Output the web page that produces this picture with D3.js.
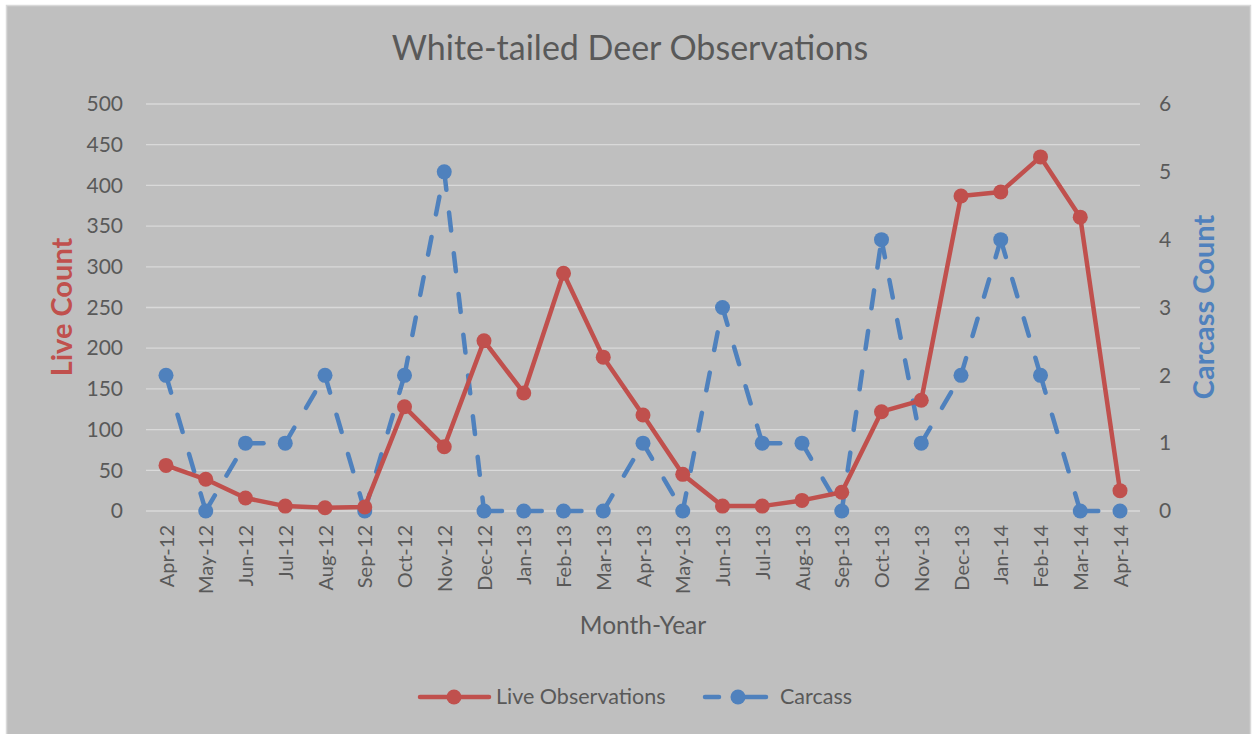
<!DOCTYPE html>
<html><head><meta charset="utf-8">
<script src="https://cdn.jsdelivr.net/npm/d3@7"></script>
<style>body{margin:0;background:#fff;}svg{display:block;font-family:Lato,"Open Sans",sans-serif;}</style>
</head><body><svg id="c" width="1252" height="734"></svg>
<script>
const months = ["Apr-12","May-12","Jun-12","Jul-12","Aug-12","Sep-12","Oct-12","Nov-12","Dec-12","Jan-13","Feb-13","Mar-13","Apr-13","May-13","Jun-13","Jul-13","Aug-13","Sep-13","Oct-13","Nov-13","Dec-13","Jan-14","Feb-14","Mar-14","Apr-14"];
const liveObservations = [56,39,16,6,4,5,128,79,209,145,292,189,118,45,6,6,13,23,122,136,387,392,435,361,25];
const carcass = [2,0,1,1,2,0,2,5,0,0,0,0,1,0,3,1,1,0,4,1,2,4,2,0,0];
const leftTicks = [0,50,100,150,200,250,300,350,400,450,500];
const rightTicks = [0,1,2,3,4,5,6];

const svg = d3.select("#c");
const red = "#c0504d", blue = "#4f81bd", txt = "#595959";
svg.append("rect").attr("x",6.5).attr("y",5.5).attr("width",1244).attr("height",730).attr("fill","#bfbfbf").attr("stroke","#d9d9d9").attr("stroke-width",1.5);

const x = d3.scalePoint().domain(months).range([166,1120]);
const yL = d3.scaleLinear().domain([0,500]).range([511,104]);
const yR = d3.scaleLinear().domain([0,6]).range([511,104]);

// gridlines
svg.append("g").selectAll("line").data(leftTicks).join("line")
  .attr("x1",146).attr("x2",1140).attr("y1",d=>yL(d)).attr("y2",d=>yL(d))
  .attr("stroke","#d9d9d9").attr("stroke-width",1.3);

// left axis
const gl = svg.append("g").attr("transform","translate(146,0)")
  .call(d3.axisLeft(yL).tickValues(leftTicks).tickSize(0).tickPadding(23));
gl.select(".domain").remove();
gl.selectAll("text").attr("fill",txt).style("font-size","21px").style("font-family","Lato,sans-serif");

// right axis
const gr = svg.append("g").attr("transform","translate(1140,0)")
  .call(d3.axisRight(yR).tickValues(rightTicks).tickFormat(d3.format("d")).tickSize(0).tickPadding(19));
gr.select(".domain").remove();
gr.selectAll("text").attr("fill",txt).style("font-size","21px").style("font-family","Lato,sans-serif");

// x axis
const gx = svg.append("g").attr("transform","translate(0,511)")
  .call(d3.axisBottom(x).tickSize(0).tickPadding(0));
gx.select(".domain").remove();
gx.selectAll("text").attr("fill",txt).style("font-size","20px").style("font-family","Lato,sans-serif")
  .attr("text-anchor","end").attr("dy","0.35em").attr("transform","translate(0,14) rotate(-90)").attr("y",0).attr("x",0);

// titles
svg.append("text").attr("x",630).attr("y",60).attr("text-anchor","middle").attr("fill",txt)
  .style("font-size","34px").text("White-tailed Deer Observations");
svg.append("text").attr("x",643).attr("y",634).attr("text-anchor","middle").attr("fill",txt)
  .style("font-size","24.5px").text("Month-Year");
svg.append("text").attr("transform","translate(72,307) rotate(-90)").attr("text-anchor","middle")
  .attr("fill",red).style("font-size","29px").style("font-weight","bold").text("Live Count");
svg.append("text").attr("transform","translate(1214,307) rotate(-90)").attr("text-anchor","middle")
  .attr("fill",blue).style("font-size","29px").style("font-weight","bold").text("Carcass Count");

// carcass line: dashed, pattern restarting at each segment
const segs = d3.pairs(carcass.map((d,i)=>[x(months[i]), yR(d)]));
svg.append("g").selectAll("path").data(segs).join("path")
  .attr("d", d=>d3.line()(d))
  .attr("fill","none").attr("stroke",blue).attr("stroke-width",4.5)
  .attr("stroke-dasharray","18,23").attr("stroke-linecap","round");
svg.append("g").selectAll("circle").data(carcass).join("circle")
  .attr("cx",(d,i)=>x(months[i])).attr("cy",d=>yR(d)).attr("r",7.5).attr("fill",blue);

// live line
svg.append("path").datum(liveObservations)
  .attr("d", d3.line().x((d,i)=>x(months[i])).y(d=>yL(d)))
  .attr("fill","none").attr("stroke",red).attr("stroke-width",4.5).attr("stroke-linejoin","round");
svg.append("g").selectAll("circle").data(liveObservations).join("circle")
  .attr("cx",(d,i)=>x(months[i])).attr("cy",d=>yL(d)).attr("r",7.5).attr("fill",red);

// legend
const lg = svg.append("g");
lg.append("line").attr("x1",420).attr("x2",489).attr("y1",697).attr("y2",697).attr("stroke",red).attr("stroke-width",4.5).attr("stroke-linecap","round");
lg.append("circle").attr("cx",454).attr("cy",697).attr("r",7.5).attr("fill",red);
lg.append("text").attr("x",496).attr("y",704).attr("fill",txt).style("font-size","21.5px").text("Live Observations");
lg.append("line").attr("x1",705).attr("x2",719).attr("y1",697).attr("y2",697).attr("stroke",blue).attr("stroke-width",4.5).attr("stroke-linecap","round");
lg.append("line").attr("x1",742).attr("x2",766).attr("y1",697).attr("y2",697).attr("stroke",blue).attr("stroke-width",4.5).attr("stroke-linecap","round");
lg.append("circle").attr("cx",738).attr("cy",697).attr("r",7.5).attr("fill",blue);
lg.append("text").attr("x",780).attr("y",704).attr("fill",txt).style("font-size","21.5px").text("Carcass");
</script></body></html>
